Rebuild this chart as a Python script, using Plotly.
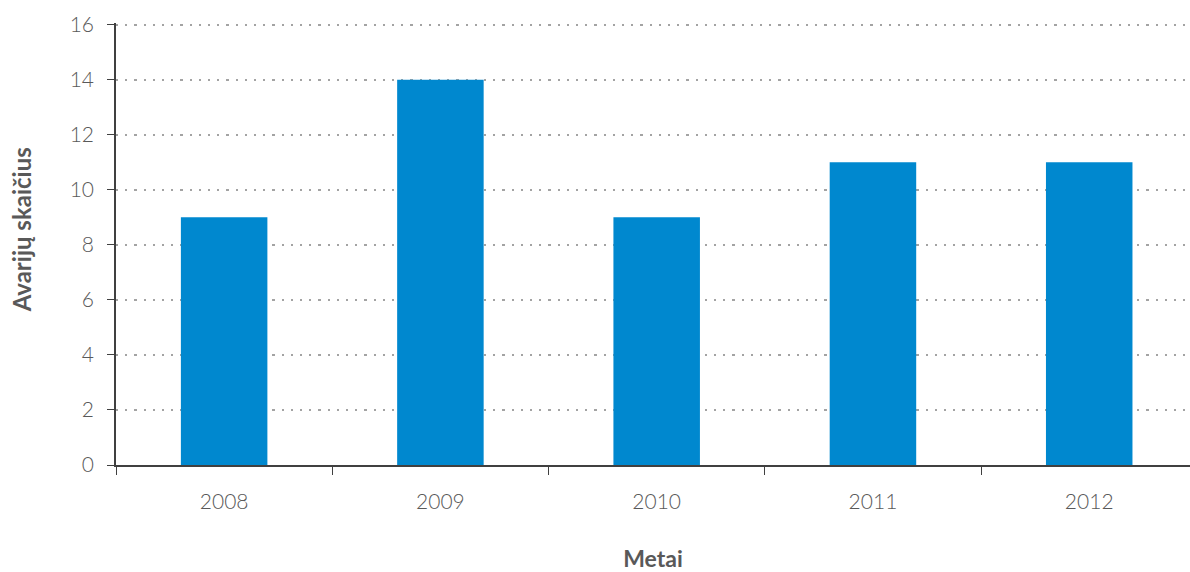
import plotly.graph_objects as go

# Avarijų skaičius pagal metus
years = ["2008", "2009", "2010", "2011", "2012"]
accidents = [9, 14, 9, 11, 11]
y_ticks = [0, 2, 4, 6, 8, 10, 12, 14, 16]

bar_color = "#0088CF"
text_color = "#595959"
axis_color = "#404040"
grid_color = "#A3A3A3"
grid_dash = "2.2px,7px"
font_family = "Lato, Open Sans, sans-serif"

fig = go.Figure(
    go.Bar(
        x=years,
        y=accidents,
        marker=dict(color=bar_color, line=dict(width=0)),
    )
)

fig.update_layout(
    width=1190,
    height=572,
    margin=dict(l=116, r=0, t=23, b=107),
    plot_bgcolor="white",
    paper_bgcolor="white",
    bargap=0.6,
    showlegend=False,
    font=dict(family=font_family, color=text_color, size=20),
)

# vertical axis title
fig.add_annotation(
    text="<b>Avarijų skaičius</b>",
    xref="paper",
    yref="paper",
    x=-0.0885,
    y=0.533,
    xanchor="center",
    yanchor="middle",
    textangle=-90,
    showarrow=False,
    font=dict(size=24, color=text_color),
)

fig.update_xaxes(
    type="category",
    range=[-0.5, 4.466],
    showline=True,
    linecolor=axis_color,
    linewidth=1.5,
    ticks="outside",
    tickson="boundaries",
    ticklen=8,
    tickwidth=1.2,
    tickcolor=axis_color,
    ticklabelstandoff=17,
    showgrid=False,
    tickfont=dict(size=21, color=text_color, weight=300),
    title=dict(
        text="<b>Metai</b>",
        font=dict(size=23, color=text_color),
        standoff=42,
    ),
)

fig.update_yaxes(
    range=[0, 16.06],
    tickvals=y_ticks,
    showline=True,
    linecolor=axis_color,
    linewidth=1.5,
    ticks="outside",
    ticklen=7,
    tickwidth=1.2,
    tickcolor=axis_color,
    ticklabelstandoff=9,
    showgrid=True,
    gridcolor=grid_color,
    gridwidth=2.2,
    griddash=grid_dash,
    zeroline=False,
    tickfont=dict(size=21, color=text_color, weight=300),
)

fig.write_html("out.html")
